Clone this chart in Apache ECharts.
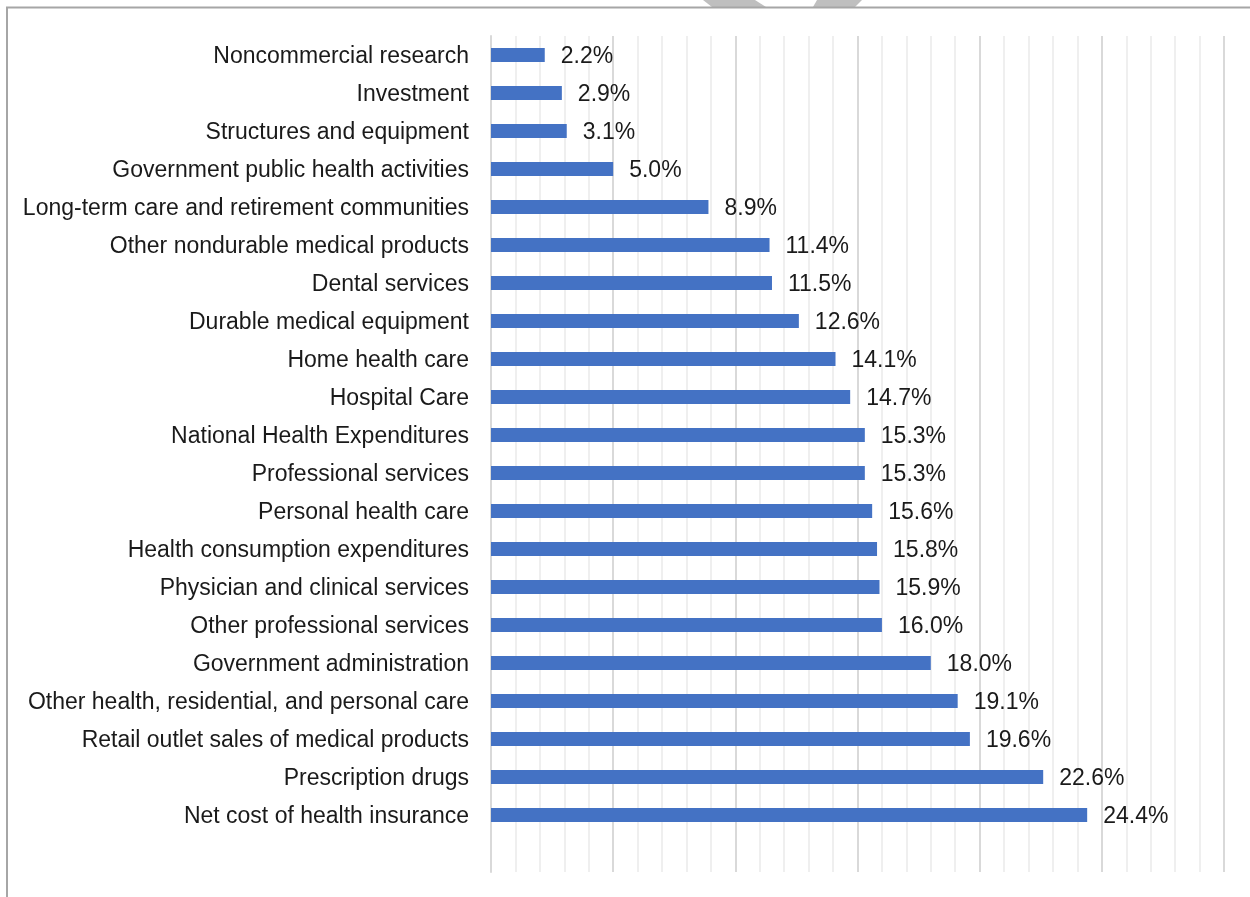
<!DOCTYPE html>
<html>
<head>
<meta charset="utf-8">
<script src="https://cdn.jsdelivr.net/npm/echarts@6/dist/echarts.min.js"></script>
<style>
html,body{margin:0;padding:0;background:#fff;}
#chart{width:1250px;height:897px;}
</style>
</head>
<body>
<div id="chart"></div>
<script>
// Categories, top to bottom (last blank slot is the empty band at the bottom of the plot)
const categories = [
  "Noncommercial research",
  "Investment",
  "Structures and equipment",
  "Government public health activities",
  "Long-term care and retirement communities",
  "Other nondurable medical products",
  "Dental services",
  "Durable medical equipment",
  "Home health care",
  "Hospital Care",
  "National Health Expenditures",
  "Professional services",
  "Personal health care",
  "Health consumption expenditures",
  "Physician and clinical services",
  "Other professional services",
  "Government administration",
  "Other health, residential, and personal care",
  "Retail outlet sales of medical products",
  "Prescription drugs",
  "Net cost of health insurance",
  ""
];
// Percent values
const values = [2.2, 2.9, 3.1, 5.0, 8.9, 11.4, 11.5, 12.6, 14.1, 14.7, 15.3, 15.3, 15.6, 15.8, 15.9, 16.0, 18.0, 19.1, 19.6, 22.6, 24.4, null];

const FONT = "Liberation Sans";
const chart = echarts.init(document.getElementById('chart'), null, {renderer: 'canvas'});
chart.setOption({
  backgroundColor: '#ffffff',
  animation: false,
  grid: {left: 491, right: 26, top: 36, bottom: 25, containLabel: false},
  xAxis: {
    type: 'value',
    min: 0, max: 30, interval: 5,
    axisLabel: {show: false},
    axisLine: {show: false},
    axisTick: {show: false},
    splitLine: {show: true, lineStyle: {color: '#d9d9d9', width: 2}},
    minorTick: {show: false, splitNumber: 5},
    minorSplitLine: {show: true, lineStyle: {color: '#efefef', width: 2}}
  },
  yAxis: {
    type: 'category',
    inverse: true,
    data: categories,
    axisTick: {show: false},
    axisLine: {show: true, lineStyle: {color: '#d9d9d9', width: 2}},
    axisLabel: {
      margin: 22,
      formatter: v => (v ? '{a|' + v + '}' : ''),
      rich: {a: {color: '#1a1a1a', fontFamily: FONT, fontSize: 23, padding: [4, 0, 0, 0]}}
    }
  },
  series: [{
    type: 'bar',
    data: values,
    barWidth: 14,
    itemStyle: {color: '#4472C4'},
    label: {
      show: true,
      position: 'right',
      distance: 16,
      offset: [0, 2],
      color: '#1a1a1a',
      fontFamily: FONT,
      fontSize: 23,
      formatter: p => (p.value == null ? '' : p.value.toFixed(1) + '%')
    }
  }],
  graphic: [
    {type: 'polygon', z: 1, shape: {points: [[703,0],[755,0],[766,7],[712,7]]}, style: {fill: '#bfbfbf'}},
    {type: 'polygon', z: 1, shape: {points: [[817,0],[862,0],[855,7],[813,7]]}, style: {fill: '#bfbfbf'}},
    {type: 'rect', z: 2, shape: {x: 7, y: 7.5, width: 1300, height: 1000}, style: {fill: null, stroke: '#a6a6a6', lineWidth: 2}}
  ]
});
</script>
</body>
</html>
